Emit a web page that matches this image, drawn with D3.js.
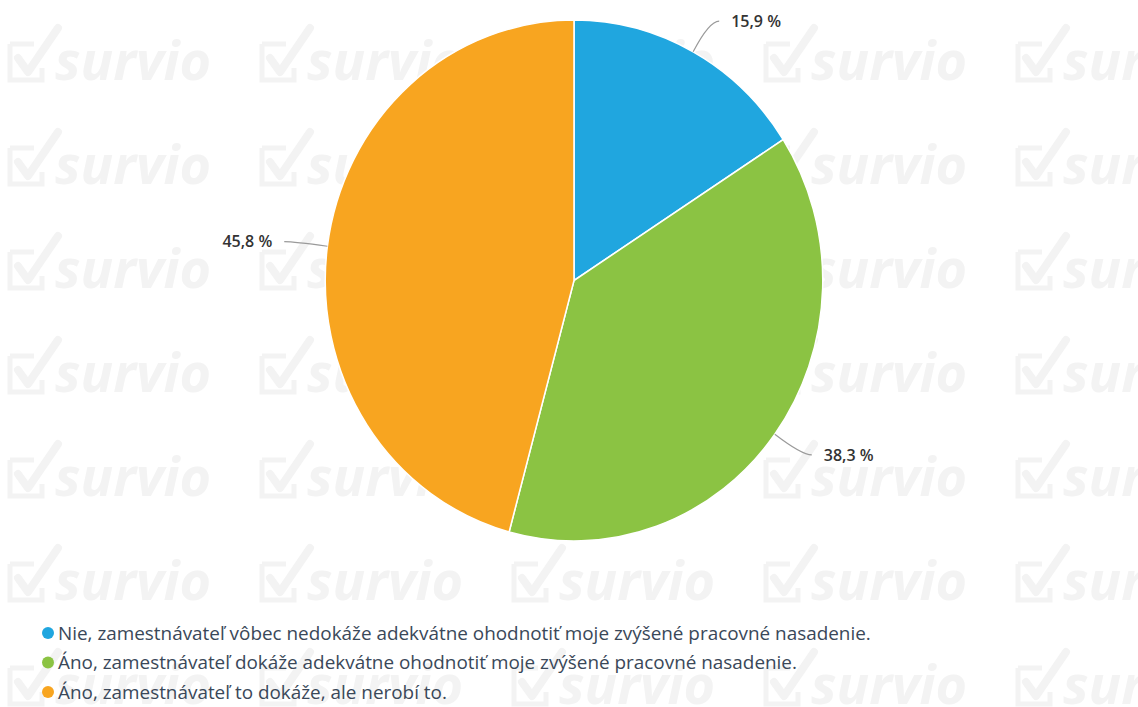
<!DOCTYPE html>
<html>
<head>
<meta charset="utf-8">
<script src="https://cdn.jsdelivr.net/npm/d3@7"></script>
<style>
  html, body { margin: 0; padding: 0; background: #ffffff; }
  svg { display: block; }
</style>
</head>
<body>
<svg id="chart" width="1138" height="707"></svg>
<script>
// Survey answers and their shares (percent)
const categories = [
  "Nie, zamestnávateľ vôbec nedokáže adekvátne ohodnotiť moje zvýšené pracovné nasadenie.",
  "Áno, zamestnávateľ dokáže adekvátne ohodnotiť moje zvýšené pracovné nasadenie.",
  "Áno, zamestnávateľ to dokáže, ale nerobí to."
];
const values = [15.9, 38.3, 45.8];
const valueLabels = ["15,9 %", "38,3 %", "45,8 %"];
const colors = ["#20a6df", "#8bc343", "#f8a520"];

const W = 1138, H = 707;
const svg = d3.select("#chart");

// Brand watermark tiles in the background
const wm = svg.append("g").attr("class", "watermark");
const wmCols = d3.range(5), wmRows = d3.range(7);
const wmColor = "#f3f3f3";
wmRows.forEach(j => {
  wmCols.forEach(k => {
    const x0 = 10 + k * 252, by = 80 + j * 104;
    const t = wm.append("g").attr("transform", `translate(${x0},${by})`);
    t.append("path")
      .attr("d", "M0,-36 H24 M32,-12 V0 H0 V-36")
      .attr("fill", "none").attr("stroke", wmColor).attr("stroke-width", 5);
    t.append("path")
      .attr("d", "M8,-22 L18,-8 L48,-52")
      .attr("fill", "none").attr("stroke", wmColor).attr("stroke-width", 8)
      .attr("stroke-linecap", "round").attr("stroke-linejoin", "round");
    t.append("text")
      .attr("x", 45).attr("y", 0)
      .attr("font-family", "'Open Sans', sans-serif")
      .attr("font-weight", 700).attr("font-style", "italic")
      .attr("font-size", 54)
      .attr("fill", wmColor)
      .text("survio");
  });
});

// Pie (slightly narrower horizontally)
const cx = 574, cy = 280.5, R = 260.5, sx = 0.955;
const pie = d3.pie().sort(null).value(d => d);
const arcs = pie(values);
const arc = d3.arc().innerRadius(0).outerRadius(R);

const pieG = svg.append("g")
  .attr("transform", `translate(${cx},${cy}) scale(${sx},1)`);
pieG.selectAll("path.slice")
  .data(arcs)
  .enter().append("path")
  .attr("class", "slice")
  .attr("d", arc)
  .attr("fill", (d, i) => colors[i])
  .attr("stroke", "#ffffff")
  .attr("stroke-width", 1.6);

// Data labels with connectors
const dist = 35;
const labelG = svg.append("g");
arcs.forEach((d, i) => {
  const a = (d.startAngle + d.endAngle) / 2;
  const s = Math.sin(a), c = Math.cos(a);
  const ex = cx + R * s * sx, ey = cy - R * c;
  const lx = cx + (R + dist) * s * sx, ly = cy - (R + dist) * c;
  const side = s >= 0 ? 1 : -1;
  const endX = lx + side * 10;
  labelG.append("path")
    .attr("d", `M${ex},${ey} Q${lx},${ly} ${endX},${ly}`)
    .attr("fill", "none")
    .attr("stroke", "#9a9a9a")
    .attr("stroke-width", 1.2);
  labelG.append("text")
    .attr("x", lx + side * 22)
    .attr("y", ly)
    .attr("dy", "0.35em")
    .attr("text-anchor", side > 0 ? "start" : "end")
    .attr("font-family", "'Open Sans', sans-serif")
    .attr("font-weight", 600)
    .attr("font-size", 16)
    .attr("fill", "#333333")
    .text(valueLabels[i]);
});

// Legend
const legend = svg.append("g").attr("transform", "translate(48,633)");
const items = legend.selectAll("g.item")
  .data(categories)
  .enter().append("g")
  .attr("class", "item")
  .attr("transform", (d, i) => `translate(0,${i * 29.5})`);
items.append("circle")
  .attr("r", 6)
  .attr("fill", (d, i) => colors[i]);
items.append("text")
  .attr("x", 10)
  .attr("dy", "0.35em")
  .attr("font-family", "'Open Sans', sans-serif")
  .attr("font-size", 18.9)
  .attr("fill", "#3a4859")
  .text(d => d);
</script>
</body>
</html>
